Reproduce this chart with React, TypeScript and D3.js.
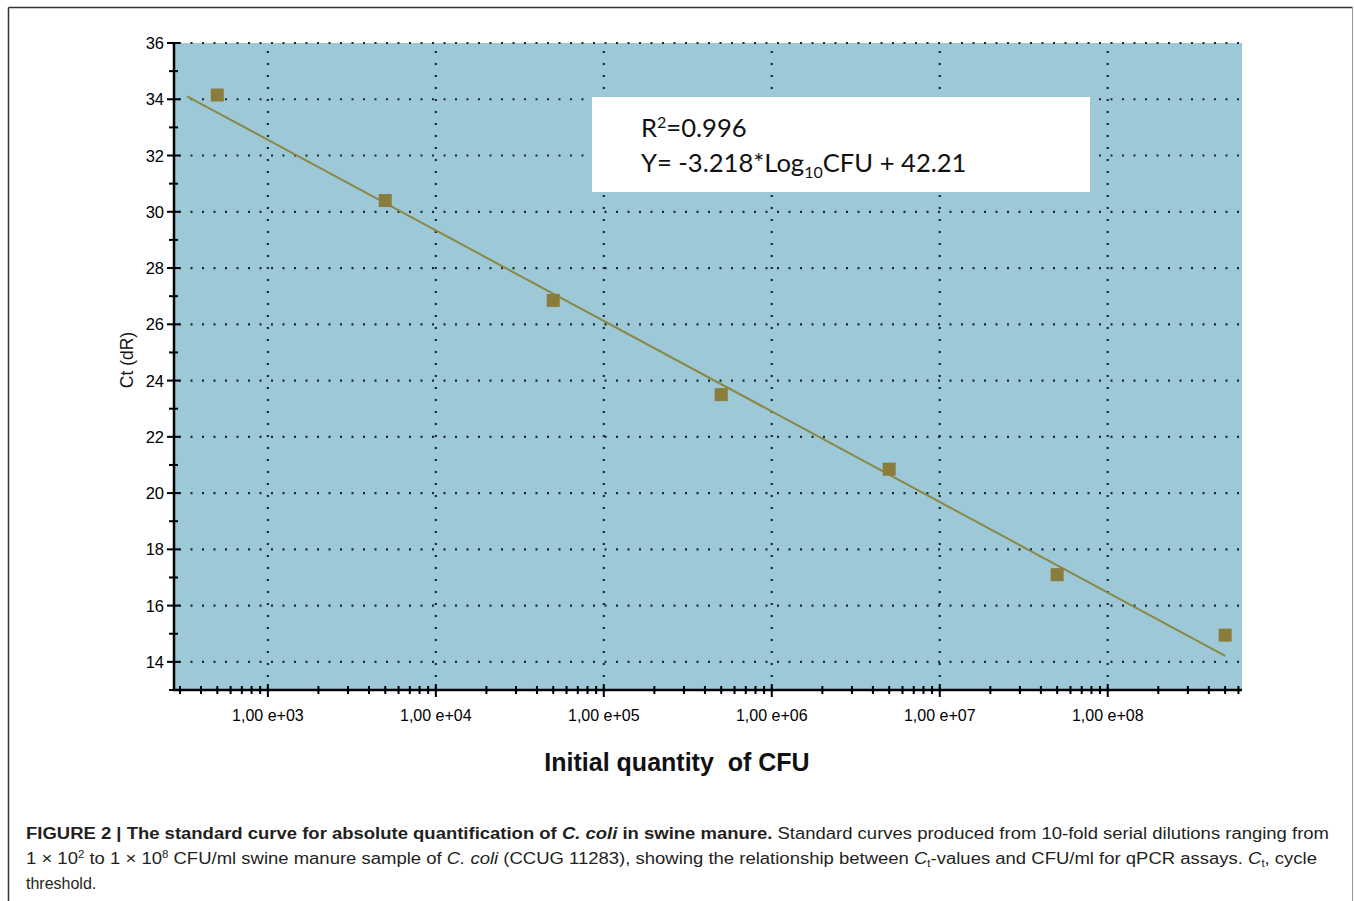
import React from "react";
import * as d3 from "d3";

// ---- data ----
const cfuValues = [5e2, 5e3, 5e4, 5e5, 5e6, 5e7, 5e8];
const ctValues = [34.15, 30.4, 26.85, 23.5, 20.85, 17.1, 14.95];
const fitSlope = -3.218;
const fitIntercept = 42.21;
const fitRange = [3.3e2, 5e8];
const yTicks = [14, 16, 18, 20, 22, 24, 26, 28, 30, 32, 34, 36];
const xTicks = [1e3, 1e4, 1e5, 1e6, 1e7, 1e8];
const xTickLabels = ["1,00 e+03", "1,00 e+04", "1,00 e+05", "1,00 e+06", "1,00 e+07", "1,00 e+08"];
const r2Text = "0.996";

const W = 1354, H = 901;
const plot = { left: 175, right: 1242, top: 43, bottom: 690 };

export default function App() {
  const x = d3.scaleLog().domain([2.8e2, 6.3e8]).range([plot.left, plot.right]);
  const y = d3.scaleLinear().domain([13, 36]).range([plot.bottom, plot.top]);

  const minorX: number[] = [];
  for (let e = 2; e <= 8; e++) {
    for (let m = 2; m <= 9; m++) {
      const v = m * Math.pow(10, e);
      if (v >= 2.8e2 && v <= 6.3e8) minorX.push(v);
    }
  }
  const minorY = d3.range(13, 36, 2);

  const fitLine = d3
    .line<number>()
    .x((d) => x(d))
    .y((d) => y(fitSlope * Math.log10(d) + fitIntercept));

  const tickFont = "'Liberation Sans', Arial, sans-serif";
  const textFont = "'Liberation Sans', Arial, sans-serif";
  const dot = "2 9.5";

  return (
    <svg width={W} height={H} style={{ position: "absolute", left: 0, top: 0, background: "#fff" }}>
      {/* frame */}
      <line x1={8.5} y1={7.5} x2={1352.5} y2={7.5} stroke="#333" strokeWidth={1.5} />
      <line x1={8.5} y1={7.5} x2={8.5} y2={901} stroke="#333" strokeWidth={1.5} />
      <line x1={1352.5} y1={7.5} x2={1352.5} y2={901} stroke="#999" strokeWidth={1} />

      {/* plot background */}
      <rect x={plot.left} y={plot.top} width={plot.right - plot.left} height={plot.bottom - plot.top} fill="#9dc8d8" />

      {/* grid */}
      {yTicks.map((t) => (
        <line key={"gy" + t} x1={plot.left + 4} x2={plot.right} y1={y(t)} y2={y(t)} stroke="#1a2a33" strokeWidth={2.2} strokeDasharray={dot} />
      ))}
      {xTicks.map((t) => (
        <line key={"gx" + t} x1={x(t)} x2={x(t)} y1={plot.top + 8} y2={plot.bottom} stroke="#1a2a33" strokeWidth={2.2} strokeDasharray="2 10" />
      ))}

      {/* annotation box */}
      <rect x={592} y={97} width={498} height={95} fill="#fff" />
      <text x={641} y={137} fontFamily="Lato, 'Open Sans', sans-serif" fontSize={25.6} fill="#111">
        R<tspan dy={-9} fontSize={16}>2</tspan>
        <tspan dy={9}>={r2Text}</tspan>
      </text>
      <text x={641} y={172} fontFamily="Lato, 'Open Sans', sans-serif" fontSize={25.6} fill="#111">
        Y= -3.218*Log<tspan dy={6} fontSize={16}>10</tspan>
        <tspan dy={-6}>CFU + 42.21</tspan>
      </text>

      {/* fit line */}
      <path d={fitLine(fitRange) || ""} fill="none" stroke="#8a8845" strokeWidth={2} />

      {/* points */}
      {cfuValues.map((c, i) => (
        <rect key={"p" + i} x={x(c) - 6.5} y={y(ctValues[i]) - 6.5} width={13} height={13} fill="#8a7d3c" />
      ))}

      {/* y axis */}
      <line x1={174} x2={174} y1={plot.top} y2={plot.bottom + 1} stroke="#000" strokeWidth={2.5} />
      {yTicks.map((t) => (
        <g key={"yt" + t}>
          <line x1={167} x2={180} y1={y(t)} y2={y(t)} stroke="#000" strokeWidth={2} />
          <text x={164} y={y(t) + 6} textAnchor="end" fontFamily={tickFont} fontSize={16.5} fill="#000">
            {t}
          </text>
        </g>
      ))}
      {minorY.map((t) => (
        <line key={"ym" + t} x1={169} x2={178} y1={y(t)} y2={y(t)} stroke="#000" strokeWidth={2} />
      ))}
      <text
        transform={`translate(133, 360) rotate(-90)`}
        textAnchor="middle"
        fontFamily={textFont}
        fontSize={17.5}
        fill="#111"
      >
        Ct (dR)
      </text>

      {/* x axis */}
      <line x1={173} x2={plot.right} y1={plot.bottom} y2={plot.bottom} stroke="#000" strokeWidth={2.5} />
      {xTicks.map((t, i) => (
        <g key={"xt" + t}>
          <line x1={x(t)} x2={x(t)} y1={684} y2={697} stroke="#000" strokeWidth={2} />
          <text x={x(t)} y={721} textAnchor="middle" fontFamily={tickFont} fontSize={16} fill="#000">
            {xTickLabels[i]}
          </text>
        </g>
      ))}
      {minorX.map((t) => (
        <line key={"xm" + t} x1={x(t)} x2={x(t)} y1={686} y2={694} stroke="#000" strokeWidth={2} />
      ))}
      <text x={677} y={771} textAnchor="middle" fontFamily={textFont} fontWeight="bold" fontSize={25} fill="#111" style={{ whiteSpace: "pre" }}>
        {"Initial quantity  of CFU"}
      </text>

      {/* caption */}
      <g fontFamily={textFont} fontSize={16} fill="#231f20">
        <text x={26} y={839} textLength={1303} lengthAdjust="spacingAndGlyphs" style={{ whiteSpace: "pre" }}>
          <tspan fontWeight="bold">FIGURE 2 | The standard curve for absolute quantification of </tspan>
          <tspan fontWeight="bold" fontStyle="italic">C. coli</tspan>
          <tspan fontWeight="bold"> in swine manure.</tspan>
          <tspan> Standard curves produced from 10-fold serial dilutions ranging from</tspan>
        </text>
        <text x={26} y={864} textLength={1291} lengthAdjust="spacingAndGlyphs" style={{ whiteSpace: "pre" }}>
          <tspan>1 × 10</tspan>
          <tspan dy={-6} fontSize={10}>2</tspan>
          <tspan dy={6}> to 1 × 10</tspan>
          <tspan dy={-6} fontSize={10}>8</tspan>
          <tspan dy={6}> CFU/ml swine manure sample of </tspan>
          <tspan fontStyle="italic">C. coli</tspan>
          <tspan> (CCUG 11283), showing the relationship between </tspan>
          <tspan fontStyle="italic">C</tspan>
          <tspan dy={3} fontSize={10}>t</tspan>
          <tspan dy={-3}>-values and CFU/ml for qPCR assays. </tspan>
          <tspan fontStyle="italic">C</tspan>
          <tspan dy={3} fontSize={10}>t</tspan>
          <tspan dy={-3}>, cycle</tspan>
        </text>
        <text x={26} y={889}>threshold.</text>
      </g>
    </svg>
  );
}
